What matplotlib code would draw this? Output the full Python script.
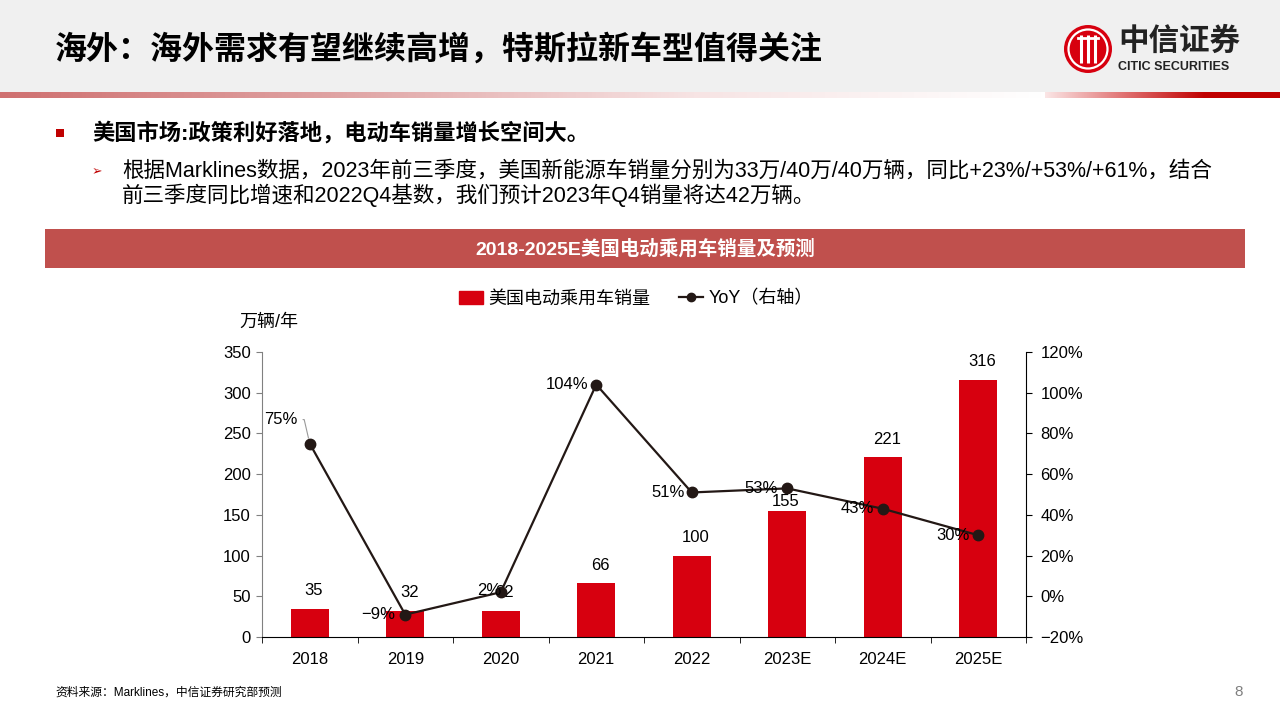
import matplotlib
matplotlib.use('Agg')
import matplotlib.pyplot as plt
import numpy as np
from matplotlib.patches import Rectangle, Circle
from matplotlib.lines import Line2D
from matplotlib.colors import LinearSegmentedColormap

plt.rcParams['font.family'] = ['Liberation Sans', 'Noto Sans CJK SC']
plt.rcParams['axes.unicode_minus'] = True

# data
years = ['2018', '2019', '2020', '2021', '2022', '2023E', '2024E', '2025E']
sales = [35, 32, 32, 66, 100, 155, 221, 316]      # 万辆
yoy = [75, -9, 2, 104, 51, 53, 43, 30]             # %
yoy_ticks = [-20, 0, 20, 40, 60, 80, 100, 120]

title = '海外：海外需求有望继续高增，特斯拉新车型值得关注'
bullet = '美国市场:政策利好落地，电动车销量增长空间大。'
sub1 = '根据Marklines数据，2023年前三季度，美国新能源车销量分别为33万/40万/40万辆，同比+23%/+53%/+61%，结合'
sub2 = '前三季度同比增速和2022Q4基数，我们预计2023年Q4销量将达42万辆。'
chart_title = '2018-2025E美国电动乘用车销量及预测'
legend_labels = ['美国电动乘用车销量', 'YoY（右轴）']
unit = '万辆/年'
source = '资料来源：Marklines，中信证券研究部预测'

RED = '#d7000f'
LINE = '#231815'
W, H = 1280, 720

fig = plt.figure(figsize=(12.8, 7.2), dpi=100)

# page background / decorations (pixel coordinates)
bg = fig.add_axes([0, 0, 1, 1])
bg.axis('off')
bg.add_patch(Rectangle((0, 0), W, 92, color='#f0f0f0', lw=0))
grad = np.linspace(0, 1, 256).reshape(1, -1)
cm1 = LinearSegmentedColormap.from_list('g1', ['#cf7070', '#e0a5a5', '#f7e4e4', '#ffffff'])
cm2 = LinearSegmentedColormap.from_list('g2', ['#fbe6e6', '#e07070', '#c00000'])
bg.imshow(grad, extent=(0, 1045, 98, 92), cmap=cm1, aspect='auto')
bg.imshow(grad, extent=(1045, 1205, 98, 92), cmap=cm2, aspect='auto')
bg.add_patch(Rectangle((1205, 92), 75, 6, color='#c00000', lw=0))

bg.text(55, 50, title, fontsize=23, weight='bold', va='center', color='black')

# logo
bg.add_patch(Circle((1088, 49), 24, color=RED, lw=0))
bg.add_patch(Circle((1088, 49), 19.5, fill=False, ec='white', lw=1.6))
for dx in (-7, 0, 7):
    bg.plot([1088 + dx] * 2, [35, 63], color='white', lw=2.2, solid_capstyle='butt')
bg.plot([1078, 1098], [38, 38], color='white', lw=2)
bg.text(1118, 42, '中信证券', fontsize=22, weight='bold', va='center', color='#222222')
bg.text(1118, 67, 'CITIC SECURITIES', fontsize=9, weight='bold', va='center', color='#222222')

# bullets
bg.add_patch(Rectangle((56, 129), 8, 8, color='#c00000', lw=0))
bg.text(92, 133, bullet, fontsize=16, weight='bold', va='center')
bg.text(97, 172, '➢', family=['DejaVu Sans'], color='#c00000', fontsize=9, ha='center', va='center')
bg.text(122, 171, sub1, fontsize=15.5, va='center')
bg.text(122, 195, sub2, fontsize=15.5, va='center')

# banner
bg.add_patch(Rectangle((45, 229), 1200, 39, color='#c0504d', lw=0))
bg.text(645, 249, chart_title, fontsize=14, weight='bold', color='white', ha='center', va='center')

bg.text(269, 322, unit, fontsize=13, ha='center', va='center')
bg.text(55, 693, source, fontsize=8.5, va='center')
bg.text(1243, 692, '8', fontsize=11, color='#7f7f7f', ha='right', va='center')
bg.set_xlim(0, W)
bg.set_ylim(H, 0)

# chart
ax = fig.add_axes([262 / W, (H - 637) / H, 764 / W, 285 / H])
ax.patch.set_visible(False)
x = np.arange(len(years))
ax.bar(x, sales, width=0.4, color=RED, zorder=2)
ax.set_xlim(-0.5, len(years) - 0.5)
ax.set_ylim(0, 350)
ax.set_yticks(range(0, 351, 50))
ax.set_xticks(x)
ax.set_xticklabels(years)
ax.set_xticks(np.arange(-0.5, len(years), 1), minor=True)
ax.tick_params(axis='x', which='major', length=0, pad=11, labelsize=12)
ax.tick_params(axis='x', which='minor', length=4, direction='out', color='black')
ax.tick_params(axis='y', length=4, direction='out', labelsize=12, pad=4, color='#808080')
ax.spines['top'].set_visible(False)
ax.spines['right'].set_visible(False)
ax.spines['left'].set_color('#808080')
ax.spines['bottom'].set_color('black')

for i, v in enumerate(sales):
    off = (-2, 9) if years[i] == '2023E' else (4, 18)
    ax.annotate(str(v), (i, v), xytext=off, textcoords='offset pixels',
                ha='center', va='center', fontsize=12)

ax2 = ax.twinx()
ax2.plot(x, yoy, color=LINE, lw=1.6, marker='o', ms=7.5, zorder=3)
ax2.set_ylim(-20, 120)
ax2.set_yticks(yoy_ticks)
ax2.set_yticklabels([f'{v}%'.replace('-', '\u2212') for v in yoy_ticks])
ax2.tick_params(axis='y', length=4.5, direction='out', labelsize=12, pad=6, color='black')
for s in ('top', 'left', 'bottom'):
    ax2.spines[s].set_visible(False)
ax2.spines['right'].set_color('black')

yoy_off = [(-29, 24), (-27, 0), (-12, 2), (-29, 0), (-24, 0), (-26, 0), (-25, 0), (-25, 0)]
for i, v in enumerate(yoy):
    txt = f'{v}%'.replace('-', '\u2212')
    if i == 0:
        ax2.annotate(txt, (i, v), xytext=yoy_off[i], textcoords='offset pixels',
                     ha='center', va='center', fontsize=12,
                     arrowprops=dict(arrowstyle='-', color='#999999', lw=0.8,
                                     connectionstyle='angle,angleA=0,angleB=103,rad=0',
                                     relpos=(1, 0.5), shrinkA=2, shrinkB=4))
    else:
        ax2.annotate(txt, (i, v), xytext=yoy_off[i], textcoords='offset pixels',
                     ha='center', va='center', fontsize=12)

handles = [Rectangle((0, 0), 1, 1, color=RED),
           Line2D([], [], color=LINE, marker='o', ms=6, lw=1.6)]
fig.legend(handles, legend_labels, loc='center', bbox_to_anchor=(636 / W, 1 - 299 / H),
           ncol=2, frameon=False, fontsize=13, handlelength=1.3, handleheight=0.7,
           columnspacing=1.6, handletextpad=0.3)

fig.savefig('out.png', dpi=100)
